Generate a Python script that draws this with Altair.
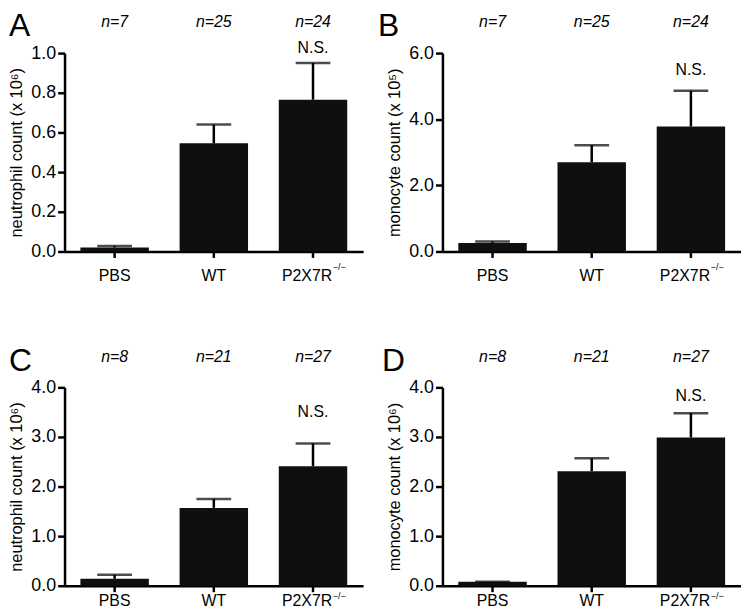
import altair as alt
import pandas as pd

FONT = "Liberation Sans"
groups = ["PBS", "WT", "P2X7R"]

n_ab = ["n=7", "n=25", "n=24"]
n_cd = ["n=8", "n=21", "n=27"]

a_mean = [0.02, 0.545, 0.765]
a_err = [0.028, 0.64, 0.95]
b_mean = [0.26, 2.70, 3.78]
b_err = [0.30, 3.21, 4.86]
c_mean = [0.14, 1.57, 2.41]
c_err = [0.22, 1.75, 2.87]
d_mean = [0.08, 2.31, 2.99]
d_err = [0.08, 2.57, 3.48]

ns_pos = [1.0, 5.34, 3.40, 3.72]

W, H = 301, 200


def panel(letter, letter_dx, mean, err, ns, ytitle, ymax, yticks, ns_y, xlabpad, sup_y):
    df = pd.DataFrame({"group": groups, "mean": mean, "err": err, "n": ns})
    xscale = alt.Scale(domain=groups, paddingInner=0.31, paddingOuter=0.16)
    xaxis = alt.Axis(
        title=None, labelAngle=0, labelFontSize=16, labelFont=FONT, labelColor="black",
        labelPadding=xlabpad,
        labelOffset={"condition": {"test": "datum.value == 'P2X7R'", "value": -6}, "value": 0},
        domainWidth=2.5, domainColor="black", tickSize=6, tickWidth=2.5, tickColor="black",
    )
    yscale = alt.Scale(domain=[0, ymax], nice=False, zero=True)
    yaxis = alt.Axis(
        values=yticks, format=".1f", title=ytitle, titleFont=FONT, titleFontSize=16.5,
        titleFontWeight="normal", titleColor="black", titlePadding=6,
        labelFontSize=18, labelFont=FONT, labelColor="black", labelPadding=2,
        labelOverlap=False, labelFlush=False,
        domainWidth=2.5, domainColor="black", tickSize=7, tickWidth=2.5, tickColor="black",
        grid=False,
    )

    def X():
        return alt.X("group:N", sort=groups, scale=xscale, axis=xaxis)

    def Y(field):
        return alt.Y(field, scale=yscale, axis=yaxis)

    base = alt.Chart(df)
    bars = base.mark_bar(color="#0e100e").encode(x=X(), y=Y("mean:Q"))
    rule = base.mark_rule(color="black", strokeWidth=2.5).encode(
        x=X(), y=Y("mean:Q"), y2="err:Q"
    )
    cap = base.mark_tick(color="black", size=35, thickness=2.5).encode(
        x=X(), y=Y("err:Q")
    )
    ntext = base.mark_text(
        font=FONT, fontSize=16, fontStyle="italic", baseline="alphabetic", color="black"
    ).encode(x=X(), y=alt.value(-26), text="n:N")
    nsdf = pd.DataFrame({"group": ["P2X7R"], "y": [ns_y], "t": ["N.S."]})
    nst = alt.Chart(nsdf).mark_text(
        font=FONT, fontSize=16, baseline="alphabetic", color="black"
    ).encode(x=X(), y=Y("y:Q"), text="t:N")
    supdf = pd.DataFrame({"group": ["P2X7R"], "t": ["\u2212/\u2212"]})
    sup = alt.Chart(supdf).mark_text(
        font=FONT, fontSize=9, align="left", baseline="alphabetic", dx=20, color="black"
    ).encode(x=X(), y=alt.value(H + sup_y), text="t:N")
    ldf = pd.DataFrame({"t": [letter]})
    let = alt.Chart(ldf).mark_text(
        font=FONT, fontSize=32, align="left", baseline="alphabetic", color="black"
    ).encode(x=alt.value(letter_dx), y=alt.value(-17), text="t:N")
    return alt.layer(bars, rule, cap, ntext, nst, sup, let).properties(width=W, height=H)


pA = panel("A", -56, a_mean, a_err, n_ab, "neutrophil count (x 10\u2076)", 1.0,
           [0, 0.2, 0.4, 0.6, 0.8, 1.0], ns_pos[0], 10, 19)
pB = panel("B", -65, b_mean, b_err, n_ab, "monocyte count (x 10\u2075)", 6.0,
           [0, 2, 4, 6], ns_pos[1], 10, 19)
pC = panel("C", -56, c_mean, c_err, n_cd, "neutrophil count (x 10\u2076)", 4.0,
           [0, 1, 2, 3, 4], ns_pos[2], 1, 13)
pD = panel("D", -61, d_mean, d_err, n_cd, "monocyte count (x 10\u2076)", 4.0,
           [0, 1, 2, 3, 4], ns_pos[3], 1, 13)

chart = (
    alt.concat(pA, pB, pC, pD, columns=2, spacing={"row": 137, "column": 80}, bounds="flush")
    .properties(padding=0)
    .configure(font=FONT)
    .configure_view(stroke=None)
)

chart.save("out.html", embed_options={"renderer": "svg", "actions": False})
